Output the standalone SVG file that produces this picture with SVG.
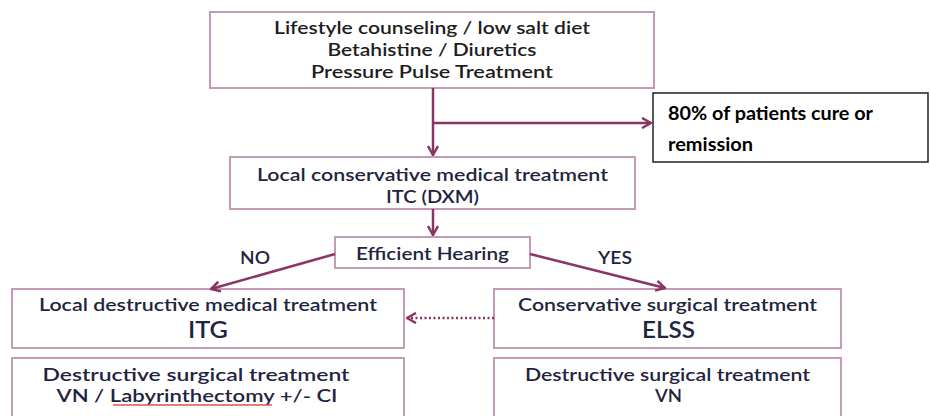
<svg xmlns="http://www.w3.org/2000/svg" width="930" height="416" viewBox="0 0 930 416">
<style>
.box{fill:#fff;stroke:#c59ab6;stroke-width:2}
.t{font-family:Lato,"Open Sans","Liberation Sans",sans-serif;font-size:17.5px;font-weight:600;text-anchor:middle;fill:#1f2540}
.top{fill:#1e1e1e}
.big{font-size:23px}
.b{font-family:Lato,"Liberation Sans",Arial,sans-serif;font-weight:bold;font-size:19px;fill:#000}
.c{fill:none;stroke:#8b3466;stroke-width:2.5}
.dot{stroke-dasharray:2 2.5}
</style>
<defs>
<marker id="ah" viewBox="0 0 12 12" refX="11" refY="6" markerWidth="12" markerHeight="12" markerUnits="userSpaceOnUse" orient="auto">
<path d="M2,1 L11,6 L2,11" fill="none" stroke="#8b3466" stroke-width="2.5"/>
</marker>
</defs>
<g id="n-top">
<rect class="box" x="210" y="12" width="444" height="76"/>
<text class="t top" x="432" y="34" textLength="316" lengthAdjust="spacingAndGlyphs">Lifestyle counseling / low salt diet</text>
<text class="t top" x="432" y="56" textLength="209" lengthAdjust="spacingAndGlyphs">Betahistine / Diuretics</text>
<text class="t top" x="432" y="78" textLength="242" lengthAdjust="spacingAndGlyphs">Pressure Pulse Treatment</text>
</g>
<g id="n-cure">
<rect x="653" y="93" width="275" height="69" fill="#fff" stroke="#222" stroke-width="1.5"/>
<text class="b" x="668" y="120" textLength="205" lengthAdjust="spacingAndGlyphs">80% of patients cure or</text>
<text class="b" x="668" y="151" textLength="85" lengthAdjust="spacingAndGlyphs">remission</text>
</g>
<g id="n-conservative">
<rect class="box" x="230" y="157" width="405" height="52"/>
<text class="t" x="432.5" y="181" textLength="351" lengthAdjust="spacingAndGlyphs">Local conservative medical treatment</text>
<text class="t" x="432.5" y="203" textLength="93" lengthAdjust="spacingAndGlyphs">ITC (DXM)</text>
</g>
<g id="n-hearing">
<rect class="box" x="335" y="237" width="195" height="31"/>
<text class="t" x="432.5" y="260" textLength="153" lengthAdjust="spacingAndGlyphs">Efficient Hearing</text>
</g>
<g id="n-itg">
<rect class="box" x="12" y="289" width="392" height="59"/>
<text class="t" x="208" y="311" textLength="338" lengthAdjust="spacingAndGlyphs">Local destructive medical treatment</text>
<text class="t big" x="208" y="338" textLength="40" lengthAdjust="spacingAndGlyphs">ITG</text>
</g>
<g id="n-destr-left">
<rect class="box" x="12" y="358" width="392" height="70"/>
<text class="t" x="196" y="381" textLength="307" lengthAdjust="spacingAndGlyphs">Destructive surgical treatment</text>
<text class="t" x="197" y="402" textLength="281" lengthAdjust="spacingAndGlyphs">VN / Labyrinthectomy +/- CI</text>
<path d="M113,405 H272" stroke="#d9534f" stroke-width="1.5" fill="none"/>
</g>
<g id="n-elss">
<rect class="box" x="494" y="289" width="347" height="59"/>
<text class="t" x="667.5" y="311" textLength="299" lengthAdjust="spacingAndGlyphs">Conservative surgical treatment</text>
<text class="t big" x="668.5" y="338" textLength="53" lengthAdjust="spacingAndGlyphs">ELSS</text>
</g>
<g id="n-destr-right">
<rect class="box" x="494" y="358" width="347" height="70"/>
<text class="t" x="667.5" y="381" textLength="285" lengthAdjust="spacingAndGlyphs">Destructive surgical treatment</text>
<text class="t" x="668.5" y="402" textLength="27" lengthAdjust="spacingAndGlyphs">VN</text>
</g>
<g id="connectors">
<path class="c" d="M433,88 V155" marker-end="url(#ah)"/>
<path class="c" d="M433,123 H651" marker-end="url(#ah)"/>
<path class="c" d="M433,209 V235" marker-end="url(#ah)"/>
<path class="c" d="M335,254 L211,289" marker-end="url(#ah)"/>
<path class="c" d="M530,254 L665,288" marker-end="url(#ah)"/>
<path class="c dot" d="M494,318 H407" marker-end="url(#ah)"/>
</g>
<g id="labels">
<text class="t" x="255" y="264" textLength="30" lengthAdjust="spacingAndGlyphs">NO</text>
<text class="t" x="615" y="264" textLength="34" lengthAdjust="spacingAndGlyphs">YES</text>
</g>
</svg>
